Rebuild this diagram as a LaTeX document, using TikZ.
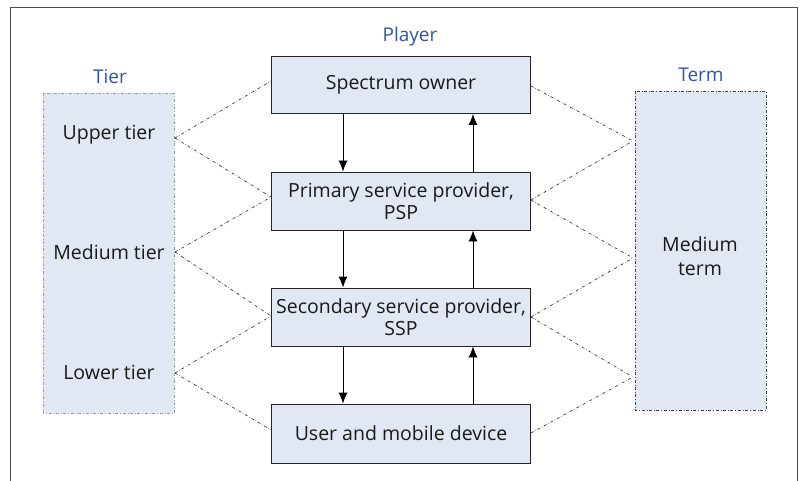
\documentclass[tikz,border=0pt]{standalone}
\usepackage{fontspec}
\setmainfont{Open Sans}
\usetikzlibrary{arrows.meta}
\definecolor{boxfill}{RGB}{225,232,244}
\definecolor{titleblue}{RGB}{50,85,165}
\begin{document}
\begin{tikzpicture}[x=1pt,y=-1pt,
  player/.style={draw=black!85,line width=0.9pt,fill=boxfill,minimum width=259pt,align=center,font=\fontsize{19.5}{22}\selectfont,text=black!90,inner sep=0pt},
  lbl/.style={font=\fontsize{19.5}{24}\selectfont,text=black!90,align=center},
  ttl/.style={font=\fontsize{19}{22}\selectfont,text=titleblue},
  link/.style={dash dot,line width=0.6pt,black!85},
  flow/.style={-{Latex[length=11pt,width=9pt]},line width=0.9pt,black}]
\useasboundingbox (0,0) rectangle (803,481);
% outer frame
\draw[line width=1pt,black!70] (10,481) -- (10,8) -- (797,8) -- (797,481);
% side boxes
\filldraw[fill=boxfill,draw=black!40,dash dot,line width=0.7pt] (43,93) rectangle (174,413);
\filldraw[fill=boxfill,draw=black!75,dash dot,line width=0.8pt] (635,91) rectangle (766,410);
% titles
\node[ttl] (tPlayer) at (410,37) {Player};
\node[ttl] (tTier) at (110,77) {Tier};
\node[ttl] (tTerm) at (701,75) {Term};
% player boxes
\node[player,minimum height=57pt] (so) at (401,85) {Spectrum owner};
\node[player,minimum height=58pt] (psp) at (401,201) {Primary service provider,\\PSP};
\node[player,minimum height=58pt] (ssp) at (401,317) {Secondary service provider,\\SSP};
\node[player,minimum height=59pt] (ud) at (401,433.5) {User and mobile device};
% tier labels
\node[lbl] (ut) at (109,135) {Upper tier};
\node[lbl] (mt) at (109,252) {Medium tier};
\node[lbl] (lt) at (109,372) {Lower tier};
\node[lbl] (mterm) at (700,256) {Medium\\term};
% anchor coordinates
\coordinate (utR) at (175,138);
\coordinate (mtR) at (175,252);
\coordinate (ltR) at (175,373);
\coordinate (tA) at (633,141);
\coordinate (tB) at (633,258);
\coordinate (tC) at (633,377);
% left links
\draw[link] (utR) -- (so.west |- 0,81);
\draw[link] (utR) -- (psp.west |- 0,197);
\draw[link] (mtR) -- (psp.west |- 0,197);
\draw[link] (mtR) -- (ssp.west |- 0,316);
\draw[link] (ltR) -- (ssp.west |- 0,316);
\draw[link] (ltR) -- (ud.west |- 0,430);
% right links
\draw[link] (so.east |- 0,86) -- (tA);
\draw[link] (psp.east |- 0,200) -- (tA);
\draw[link] (psp.east |- 0,200) -- (tB);
\draw[link] (ssp.east |- 0,317) -- (tB);
\draw[link] (ssp.east |- 0,317) -- (tC);
\draw[link] (ud.east |- 0,433) -- (tC);
% flows
\draw[flow] (so.south -| 343,0) -- (psp.north -| 343,0);
\draw[flow] (psp.south -| 343,0) -- (ssp.north -| 343,0);
\draw[flow] (ssp.south -| 343,0) -- (ud.north -| 343,0);
\draw[flow] (ud.north -| 473,0) -- (ssp.south -| 473,0);
\draw[flow] (ssp.north -| 473,0) -- (psp.south -| 473,0);
\draw[flow] (psp.north -| 473,0) -- (so.south -| 473,0);
\end{tikzpicture}
\end{document}
